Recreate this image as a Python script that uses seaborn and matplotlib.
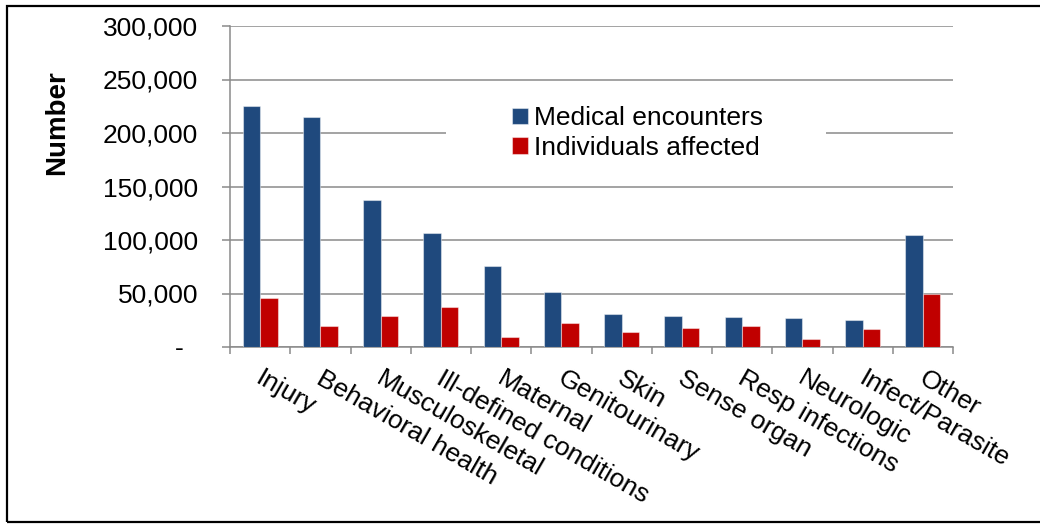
import matplotlib
matplotlib.use("Agg")
import matplotlib.pyplot as plt
import matplotlib.transforms as mtransforms
from matplotlib.patches import Rectangle
from matplotlib.ticker import FixedLocator, FuncFormatter
import seaborn as sns
import pandas as pd
import numpy as np

# Burden of disease by category
categories = ["Injury", "Behavioral health", "Musculoskeletal", "Ill-defined conditions",
              "Maternal", "Genitourinary", "Skin", "Sense organ", "Resp infections",
              "Neurologic", "Infect/Parasite", "Other"]
medical_encounters = [225000, 215000, 137000, 106500, 76000, 51300, 31300, 29400,
                      28500, 27200, 25700, 105000]
individuals_affected = [45600, 20000, 29300, 37800, 9700, 22200, 14400, 17500,
                        19400, 7200, 17200, 50000]
series_names = ["Medical encounters", "Individuals affected"]
y_ticks = [0, 50000, 100000, 150000, 200000, 250000, 300000]

df = pd.DataFrame({
    "category": categories * 2,
    "value": medical_encounters + individuals_affected,
    "series": [series_names[0]] * len(categories) + [series_names[1]] * len(categories),
})

sns.set_theme(style="white")
plt.rcParams["font.family"] = ["Liberation Sans", "DejaVu Sans"]
plt.rcParams["text.color"] = "black"
plt.rcParams["axes.labelcolor"] = "black"

GRID = "#8a8a8a"
FS = 19
fig = plt.figure(figsize=(10.4, 5.24), dpi=100)
# axes box in pixels: x 230..953, y 26..347 (from top)
ax = fig.add_axes([230 / 1040, 1 - 347 / 524, 723 / 1040, 321 / 524])

sns.barplot(data=df, x="category", y="value", hue="series", order=categories,
            hue_order=series_names, palette=["#1F497D", "#C00000"], saturation=1,
            width=0.58, gap=0, ax=ax, edgecolor=(1, 1, 1, 0.45), linewidth=0.8,
            legend=True, zorder=3)

ax.set_xlim(-0.5, len(categories) - 0.5)
ax.set_ylim(0, 300000)
ax.yaxis.set_major_locator(FixedLocator(y_ticks))
ax.yaxis.set_major_formatter(FuncFormatter(lambda v, p: "-  " if v == 0 else f"{int(v):,}"))
ax.grid(axis="y", color=GRID, linewidth=1.1, zorder=0)
ax.set_axisbelow(True)

for side in ["top", "right"]:
    ax.spines[side].set_visible(False)
for side in ["left", "bottom"]:
    ax.spines[side].set_color(GRID)
    ax.spines[side].set_linewidth(1.1)

ax.tick_params(axis="y", which="major", direction="out", length=5.8, width=1.1,
               color=GRID, pad=17, labelsize=FS, labelcolor="black", left=True)
ax.xaxis.set_minor_locator(FixedLocator(np.arange(-0.5, len(categories), 1.0)))
ax.tick_params(axis="x", which="minor", direction="out", length=5, width=1.1,
               color=GRID, bottom=True)
ax.tick_params(axis="x", which="major", length=0, pad=14, labelsize=FS, labelcolor="black")
shift = mtransforms.ScaledTranslation(4 / 100, 0, fig.dpi_scale_trans)
for lab in ax.get_xticklabels():
    lab.set_rotation(-30)
    lab.set_ha("left")
    lab.set_va("top")
    lab.set_rotation_mode("anchor")
    lab.set_transform(lab.get_transform() + shift)

ax.set_xlabel("")
ax.set_ylabel("Number", fontsize=20, fontweight="bold", va="center", color="black")
ax.yaxis.set_label_coords(-0.239, 0.70)

# white legend panel over the gridlines
ax.add_patch(Rectangle((216 / 723, (347 - 172) / 321), 380 / 723, 76 / 321,
                       transform=ax.transAxes, facecolor="white", edgecolor="none",
                       zorder=1.5))
leg = ax.legend(loc="center left", bbox_to_anchor=(282 / 723, (347 - 133) / 321),
                frameon=False, fontsize=FS, handlelength=0.6, handleheight=0.6,
                handletextpad=0.25, labelspacing=0.2, borderpad=0, borderaxespad=0)
for t in leg.get_texts():
    t.set_color("black")

# outer chart border
fig.add_artist(Rectangle((7 / 1040, 1 - 522 / 524), 1.1, 516 / 524,
                         transform=fig.transFigure, facecolor="none",
                         edgecolor="black", linewidth=1.6, clip_on=False))

fig.savefig("out.png", dpi=100)
